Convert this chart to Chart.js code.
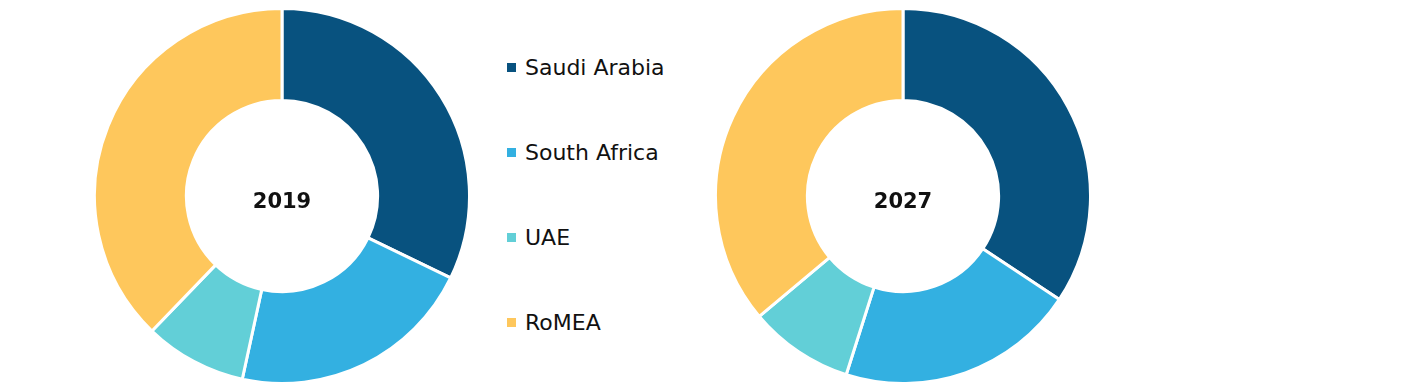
<!DOCTYPE html>
<html>
<head>
<meta charset="utf-8">
<script src="https://cdn.jsdelivr.net/npm/chart.js@4/dist/chart.umd.min.js"></script>
<style>
  body { margin: 0; background: #fff; width: 1404px; height: 392px; position: relative; overflow: hidden; font-family: "DejaVu Sans", sans-serif; }
  .pie { position: absolute; top: 7px; width: 378px; height: 378px; }
  #legend { position: absolute; left: 507px; top: 0; }
  .item { position: absolute; left: 0; white-space: nowrap; font-size: 22px; color: #111; line-height: 22px; }
  .item span.box { display: inline-block; width: 9px; height: 9px; margin-right: 9px; vertical-align: 3px; }
</style>
</head>
<body>
<div class="pie" style="left:93px"><canvas id="chart2019"></canvas></div>
<div id="legend"></div>
<div class="pie" style="left:714px"><canvas id="chart2027"></canvas></div>
<script>
const regions = ["Saudi Arabia", "South Africa", "UAE", "RoMEA"];
const colors = ["#08527F", "#33B0E1", "#62CFD7", "#FEC75C"];
const share2019 = [32.2, 21.2, 8.8, 37.8];
const share2027 = [34.3, 20.6, 9.0, 36.1];

/* center label */
const centerText = {
    id: "centerText",
    afterDraw(chart, args, opts) {
        const { ctx, chartArea } = chart;
        ctx.save();
        ctx.font = "bold 21px 'DejaVu Sans', sans-serif";
        ctx.fillStyle = "#111";
        ctx.textAlign = "center";
        ctx.textBaseline = "middle";
        ctx.fillText(opts.text, (chartArea.left + chartArea.right) / 2, (chartArea.top + chartArea.bottom) / 2 + 7);
        ctx.restore();
    }
};

function donut(id, values, year) {
    new Chart(document.getElementById(id), {
        type: "doughnut",
        data: {
            labels: regions,
            datasets: [{
                data: values,
                backgroundColor: colors,
                borderColor: "#fff",
                borderWidth: 3
            }]
        },
        options: {
            responsive: true,
            maintainAspectRatio: false,
            animation: false,
            cutout: "51%",
            layout: { padding: 0 },
            plugins: {
                legend: { display: false },
                tooltip: { enabled: false },
                centerText: { text: year }
            }
        },
        plugins: [centerText]
    });
}

donut("chart2019", share2019, "2019");
donut("chart2027", share2027, "2027");

/* legend */
const legend = document.getElementById("legend");
regions.forEach((r, i) => {
    const d = document.createElement("div");
    d.className = "item";
    d.style.top = (57 + i * 85) + "px";
    d.innerHTML = '<span class="box" style="background:' + colors[i] + '"></span>' + r;
    legend.appendChild(d);
});
</script>
</body>
</html>
